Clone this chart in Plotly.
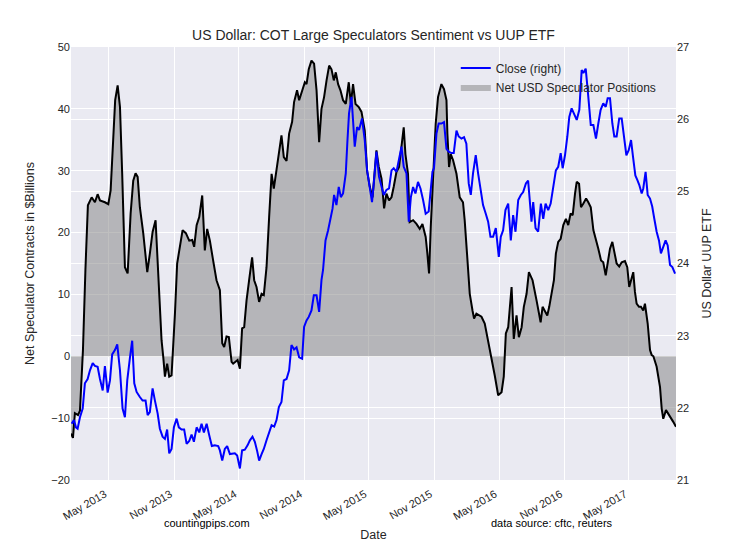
import pandas as pd
import plotly.graph_objects as go

# ---- Data (dates as decimal years) ----
net_t = [2013.037, 2013.052, 2013.067, 2013.091, 2013.106, 2013.129, 2013.148, 2013.167,
         2013.196, 2013.221, 2013.242, 2013.260, 2013.298, 2013.324, 2013.342, 2013.362,
         2013.377, 2013.396, 2013.414, 2013.431, 2013.452, 2013.473, 2013.496, 2013.516,
         2013.534, 2013.550, 2013.567, 2013.593, 2013.624, 2013.644, 2013.665, 2013.688,
         2013.701, 2013.716, 2013.734, 2013.747, 2013.760, 2013.777, 2013.793, 2013.811,
         2013.824, 2013.837, 2013.854, 2013.875, 2013.896, 2013.921, 2013.947, 2013.970,
         2013.985, 2014.004, 2014.024, 2014.047, 2014.067, 2014.085, 2014.106, 2014.131,
         2014.157, 2014.183, 2014.201, 2014.216, 2014.234, 2014.252, 2014.273, 2014.285,
         2014.304, 2014.319, 2014.337, 2014.354, 2014.370, 2014.388, 2014.408, 2014.431,
         2014.447, 2014.465, 2014.485, 2014.504, 2014.521, 2014.542, 2014.562, 2014.581,
         2014.598, 2014.619, 2014.637, 2014.657, 2014.675, 2014.696, 2014.716, 2014.739,
         2014.754, 2014.777, 2014.793, 2014.816, 2014.837, 2014.850, 2014.867, 2014.888,
         2014.908, 2014.927, 2014.947, 2014.965, 2014.985, 2015.004, 2015.024, 2015.042,
         2015.060, 2015.075, 2015.093, 2015.111, 2015.131, 2015.152, 2015.175, 2015.191,
         2015.208, 2015.227, 2015.252, 2015.273, 2015.298, 2015.316, 2015.337, 2015.358,
         2015.375, 2015.388, 2015.406, 2015.427, 2015.447, 2015.465, 2015.485, 2015.504,
         2015.521, 2015.542, 2015.562, 2015.581, 2015.598, 2015.611, 2015.631, 2015.644,
         2015.670, 2015.696, 2015.721, 2015.742, 2015.767, 2015.780, 2015.793, 2015.806,
         2015.824, 2015.844, 2015.862, 2015.888, 2015.908, 2015.927, 2015.934, 2015.947,
         2015.960, 2015.978, 2016.004, 2016.029, 2016.054, 2016.067, 2016.085, 2016.106,
         2016.127, 2016.139, 2016.157, 2016.196, 2016.221, 2016.247, 2016.273, 2016.298,
         2016.324, 2016.350, 2016.367, 2016.383, 2016.401, 2016.427, 2016.444, 2016.465,
         2016.483, 2016.504, 2016.521, 2016.542, 2016.560, 2016.588, 2016.619, 2016.650,
         2016.665, 2016.683, 2016.701, 2016.716, 2016.734, 2016.752, 2016.767, 2016.785,
         2016.804, 2016.824, 2016.844, 2016.862, 2016.880, 2016.896, 2016.914, 2016.927,
         2016.945, 2016.960, 2016.978, 2016.999, 2017.016, 2017.035, 2017.055, 2017.075,
         2017.093, 2017.114, 2017.131, 2017.150, 2017.165, 2017.183, 2017.201, 2017.216,
         2017.234, 2017.254, 2017.273, 2017.298, 2017.316, 2017.331, 2017.344, 2017.362,
         2017.375, 2017.388, 2017.406, 2017.421, 2017.439, 2017.452, 2017.473, 2017.491,
         2017.504, 2017.517, 2017.542, 2017.568, 2017.581, 2017.593, 2017.614, 2017.640,
         2017.670, 2017.691]
net_positions = [-12.5, -13.2, -9.2, -9.5, -8.8, 1.0, 14.0, 24.4,
                 25.7, 24.9, 26.2, 25.2, 24.9, 24.6, 26.8, 34.9,
                 41.4, 43.8, 40.3, 29.5, 14.4, 13.4, 23.1, 28.4,
                 29.6, 29.0, 24.1, 19.9, 13.6, 16.6, 20.1, 22.0,
                 16.0, 8.6, 2.6, -0.1, -3.3, -1.2, -3.3, -3.1,
                 1.5, 6.9, 15.0, 17.7, 20.4, 19.9, 18.7, 18.8,
                 17.7, 21.2, 22.5, 26.0, 17.1, 20.6, 18.7, 15.5,
                 12.3, 10.7, 2.1, 1.5, 3.2, 3.1, -0.9, -1.2,
                 -0.9, -0.6, -2.0, 4.5, 4.7, 9.0, 12.3, 16.0,
                 12.3, 11.2, 8.8, 10.1, 9.9, 14.4, 22.5, 29.5,
                 27.1, 30.0, 32.5, 35.7, 32.2, 31.6, 36.0, 37.9,
                 41.1, 43.0, 41.4, 43.0, 44.3, 44.0, 46.4, 47.8,
                 47.3, 43.0, 34.6, 40.0, 41.9, 44.6, 47.0, 46.4,
                 44.6, 45.9, 44.0, 43.0, 41.4, 40.8, 44.3, 40.8,
                 44.0, 40.8, 40.3, 39.5, 36.5, 30.0, 27.4, 25.7,
                 29.5, 33.3, 30.6, 28.7, 23.9, 26.3, 25.2, 25.7,
                 27.4, 29.8, 30.6, 33.8, 37.0, 32.7, 29.5, 21.7,
                 22.0, 21.4, 20.6, 21.4, 19.3, 16.6, 13.4, 20.9,
                 29.5, 37.6, 41.9, 44.0, 43.2, 41.4, 36.0, 30.6,
                 32.7, 31.7, 29.5, 25.7, 24.9, 22.0, 16.6, 10.1,
                 7.4, 6.1, 6.9, 6.4, 5.3, 2.6, -0.1, -3.1,
                 -6.3, -5.8, -3.3, 3.7, 4.7, 11.2, 2.8, 6.6,
                 3.1, 4.7, 8.0, 10.1, 13.6, 12.3, 9.0, 5.5,
                 8.0, 7.2, 6.6, 8.0, 10.1, 12.3, 16.6, 18.5,
                 19.0, 21.2, 22.2, 21.2, 23.1, 22.8, 26.3, 28.2,
                 27.9, 24.1, 24.7, 25.5, 24.9, 24.1, 20.4, 19.0,
                 17.4, 15.5, 15.2, 13.1, 15.2, 17.4, 18.5, 16.6,
                 15.0, 14.5, 15.2, 15.4, 14.4, 11.2, 12.3, 13.6,
                 10.4, 8.5, 8.0, 8.0, 7.4, 8.5, 5.3, 1.0,
                 0.2, 0.0, -1.7, -5.0, -8.5, -10.1, -8.7, -9.5,
                 -10.6, -11.4]

uup_t = [2013.042, 2013.060, 2013.075, 2013.088, 2013.106, 2013.127, 2013.144, 2013.165,
         2013.183, 2013.204, 2013.221, 2013.242, 2013.260, 2013.281, 2013.298, 2013.319,
         2013.337, 2013.354, 2013.375, 2013.393, 2013.414, 2013.434, 2013.452, 2013.470,
         2013.491, 2013.508, 2013.524, 2013.542, 2013.567, 2013.588, 2013.611, 2013.627,
         2013.644, 2013.665, 2013.683, 2013.704, 2013.721, 2013.742, 2013.760, 2013.777,
         2013.793, 2013.811, 2013.829, 2013.850, 2013.867, 2013.888, 2013.908, 2013.927,
         2013.947, 2013.965, 2013.983, 2014.004, 2014.024, 2014.042, 2014.060, 2014.081,
         2014.101, 2014.121, 2014.144, 2014.170, 2014.183, 2014.201, 2014.221, 2014.239,
         2014.260, 2014.281, 2014.298, 2014.316, 2014.337, 2014.354, 2014.375, 2014.396,
         2014.414, 2014.434, 2014.452, 2014.470, 2014.485, 2014.504, 2014.521, 2014.542,
         2014.562, 2014.581, 2014.601, 2014.619, 2014.637, 2014.657, 2014.675, 2014.696,
         2014.716, 2014.734, 2014.754, 2014.773, 2014.793, 2014.816, 2014.831, 2014.850,
         2014.867, 2014.888, 2014.906, 2014.927, 2014.947, 2014.965, 2014.977, 2014.996,
         2015.016, 2015.034, 2015.050, 2015.062, 2015.080, 2015.098, 2015.114, 2015.131,
         2015.152, 2015.165, 2015.177, 2015.196, 2015.208, 2015.221, 2015.239, 2015.254,
         2015.277, 2015.298, 2015.316, 2015.337, 2015.354, 2015.370, 2015.388, 2015.408,
         2015.427, 2015.444, 2015.465, 2015.485, 2015.504, 2015.521, 2015.542, 2015.562,
         2015.581, 2015.598, 2015.619, 2015.637, 2015.653, 2015.670, 2015.688, 2015.708,
         2015.727, 2015.747, 2015.767, 2015.790, 2015.806, 2015.819, 2015.831, 2015.850,
         2015.867, 2015.888, 2015.908, 2015.927, 2015.944, 2015.965, 2015.983, 2016.004,
         2016.021, 2016.042, 2016.062, 2016.080, 2016.098, 2016.114, 2016.131, 2016.152,
         2016.170, 2016.188, 2016.208, 2016.229, 2016.247, 2016.265, 2016.285, 2016.306,
         2016.329, 2016.344, 2016.362, 2016.380, 2016.401, 2016.421, 2016.439, 2016.457,
         2016.478, 2016.498, 2016.516, 2016.537, 2016.554, 2016.580, 2016.593, 2016.611,
         2016.631, 2016.652, 2016.670, 2016.688, 2016.708, 2016.727, 2016.747, 2016.767,
         2016.785, 2016.804, 2016.819, 2016.837, 2016.855, 2016.870, 2016.888, 2016.906,
         2016.927, 2016.947, 2016.965, 2016.978, 2016.996, 2017.009, 2017.024, 2017.035,
         2017.055, 2017.075, 2017.093, 2017.111, 2017.131, 2017.150, 2017.165, 2017.183,
         2017.201, 2017.216, 2017.234, 2017.254, 2017.273, 2017.291, 2017.309, 2017.327,
         2017.345, 2017.360, 2017.378, 2017.393, 2017.408, 2017.427, 2017.439, 2017.457,
         2017.473, 2017.491, 2017.508, 2017.524, 2017.542, 2017.560, 2017.575, 2017.593,
         2017.611, 2017.627, 2017.645, 2017.663, 2017.684]
uup_close = [21.78, 21.83, 21.73, 21.71, 21.87, 21.99, 22.34, 22.40,
             22.52, 22.62, 22.58, 22.57, 22.40, 22.24, 22.58, 22.21,
             22.38, 22.74, 22.80, 22.88, 22.52, 21.99, 21.87, 22.38,
             22.70, 22.93, 22.34, 22.22, 22.15, 22.10, 22.10, 21.90,
             21.94, 22.27, 22.10, 21.92, 21.71, 21.60, 21.57, 21.70,
             21.37, 21.43, 21.73, 21.85, 21.73, 21.70, 21.70, 21.50,
             21.54, 21.63, 21.53, 21.73, 21.66, 21.78, 21.66, 21.78,
             21.62, 21.47, 21.48, 21.47, 21.41, 21.27, 21.43, 21.47,
             21.36, 21.36, 21.37, 21.34, 21.16, 21.41, 21.42, 21.48,
             21.55, 21.60, 21.53, 21.40, 21.27, 21.36, 21.43, 21.55,
             21.66, 21.76, 21.74, 21.83, 22.01, 22.08, 22.38, 22.40,
             22.52, 22.87, 22.81, 22.84, 22.70, 22.68, 23.12, 23.21,
             23.26, 23.35, 23.56, 23.56, 23.33, 23.77, 23.91, 24.32,
             24.46, 24.60, 24.76, 24.95, 24.81, 25.06, 24.92, 24.97,
             25.25, 25.71, 26.08, 26.31, 26.03, 25.62, 25.89, 25.85,
             26.01, 25.71, 25.29, 25.02, 24.85, 25.16, 25.55, 25.20,
             25.06, 24.95, 25.02, 25.04, 25.29, 25.32, 25.27, 25.46,
             25.62, 25.34, 25.25, 24.58, 24.92, 25.06, 24.97, 25.13,
             25.04, 24.88, 24.69, 24.72, 25.02, 25.27, 25.32, 25.80,
             25.94, 25.94, 25.96, 25.59, 25.55, 25.53, 25.53, 25.84,
             25.76, 25.73, 25.75, 25.66, 25.11, 24.95, 25.25, 25.50,
             25.25, 25.06, 24.81, 24.69, 24.58, 24.37, 24.37, 24.49,
             24.09, 24.37, 24.46, 24.74, 24.83, 24.32, 24.67, 24.44,
             24.88, 24.95, 24.99, 25.11, 25.15, 24.58, 24.85, 24.49,
             24.44, 24.83, 24.62, 24.83, 24.74, 24.83, 25.06, 25.29,
             25.34, 25.53, 25.32, 25.50, 25.76, 26.03, 26.15, 26.08,
             25.99, 26.13, 26.68, 26.64, 26.70, 26.45, 26.17, 25.92,
             25.92, 25.73, 25.94, 26.13, 26.22, 26.17, 26.29, 26.29,
             25.94, 25.76, 25.76, 26.01, 26.01, 25.71, 25.50, 25.57,
             25.71, 25.48, 25.22, 25.16, 25.09, 24.97, 25.04, 25.27,
             24.95, 24.90, 24.79, 24.62, 24.44, 24.32, 24.14, 24.23,
             24.32, 24.25, 23.98, 23.95, 23.86]

tick_dates = ["2013-05-01", "2013-11-01", "2014-05-01", "2014-11-01", "2015-05-01",
              "2015-11-01", "2016-05-01", "2016-11-01", "2017-05-01"]
tick_labels = ["May 2013", "Nov 2013", "May 2014", "Nov 2014", "May 2015",
               "Nov 2015", "May 2016", "Nov 2016", "May 2017"]


def to_date(t):
    y = int(t)
    start = pd.Timestamp(year=y, month=1, day=1)
    end = pd.Timestamp(year=y + 1, month=1, day=1)
    return start + (t - y) * (end - start)


net_dates = [to_date(t) for t in net_t]
uup_dates = [to_date(t) for t in uup_t]

FONT = "Liberation Sans, Arial, sans-serif"
TXT = "#262626"

fig = go.Figure()
fig.add_trace(go.Scatter(x=uup_dates, y=uup_close, name="Close (right)", mode="lines",
                         line=dict(color="#0000FF", width=2), yaxis="y2"))
fig.add_trace(go.Scatter(x=net_dates, y=net_positions, name="Net USD Speculator Positions",
                         mode="lines", fill="tozeroy", fillcolor="rgba(128,128,128,0.5)",
                         line=dict(width=0, color="rgba(128,128,128,0.5)")))
fig.add_trace(go.Scatter(x=net_dates, y=net_positions, mode="lines", showlegend=False,
                         line=dict(color="black", width=2)))

fig.update_layout(
    width=733, height=548,
    margin=dict(l=71, r=57, t=47, b=68),
    paper_bgcolor="white", plot_bgcolor="#EAEAF2",
    font=dict(family=FONT, color=TXT, size=11),
    title=dict(text="US Dollar: COT Large Speculators Sentiment vs UUP ETF",
               x=0.5, xref="paper", xanchor="center", y=1 - 35 / 548, yanchor="middle",
               font=dict(size=14, color=TXT)),
    xaxis=dict(type="date", range=[net_dates[0], net_dates[-1]],
               tickvals=tick_dates, ticktext=tick_labels, tickangle=-30,
               ticklabelstandoff=5, ticklabelshift=-4,
               showgrid=True, gridcolor="white", gridwidth=1, zeroline=False,
               showline=False, ticks="", tickfont=dict(size=11, color=TXT), automargin=False,
               title=dict(text="Date", font=dict(size=12.5, color=TXT), standoff=9)),
    yaxis=dict(range=[-20, 50], dtick=10, showgrid=True, gridcolor="white", gridwidth=1,
               zeroline=False, showline=False, ticks="", tickfont=dict(size=11, color=TXT),
               automargin=False,
               title=dict(text="Net Speculator Contracts in $Billions",
                          font=dict(size=12.5, color=TXT), standoff=13)),
    yaxis2=dict(range=[21, 27], dtick=1, overlaying="y", side="right", showgrid=True,
                gridcolor="white", gridwidth=1, zeroline=False, showline=False, ticks="",
                tickfont=dict(size=11, color=TXT), automargin=False,
                title=dict(text="US Dollar UUP ETF", font=dict(size=12.5, color=TXT),
                           standoff=13)),
    legend=dict(x=0.636, y=0.985, xanchor="left", yanchor="top", bgcolor="rgba(0,0,0,0)",
                font=dict(size=12, color=TXT), tracegroupgap=0),
    annotations=[
        dict(text="countingpips.com", xref="paper", yref="paper", x=0.225, y=-0.099,
             xanchor="center", yanchor="middle", showarrow=False,
             font=dict(size=11, color="black")),
        dict(text="data source: cftc, reuters", xref="paper", yref="paper", x=0.795,
             y=-0.099, xanchor="center", yanchor="middle", showarrow=False,
             font=dict(size=11, color="black")),
    ],
)

fig.write_html("out.html", config={"displayModeBar": False},
               post_script="document.body.style.margin='0px';document.body.style.padding='0px';")
